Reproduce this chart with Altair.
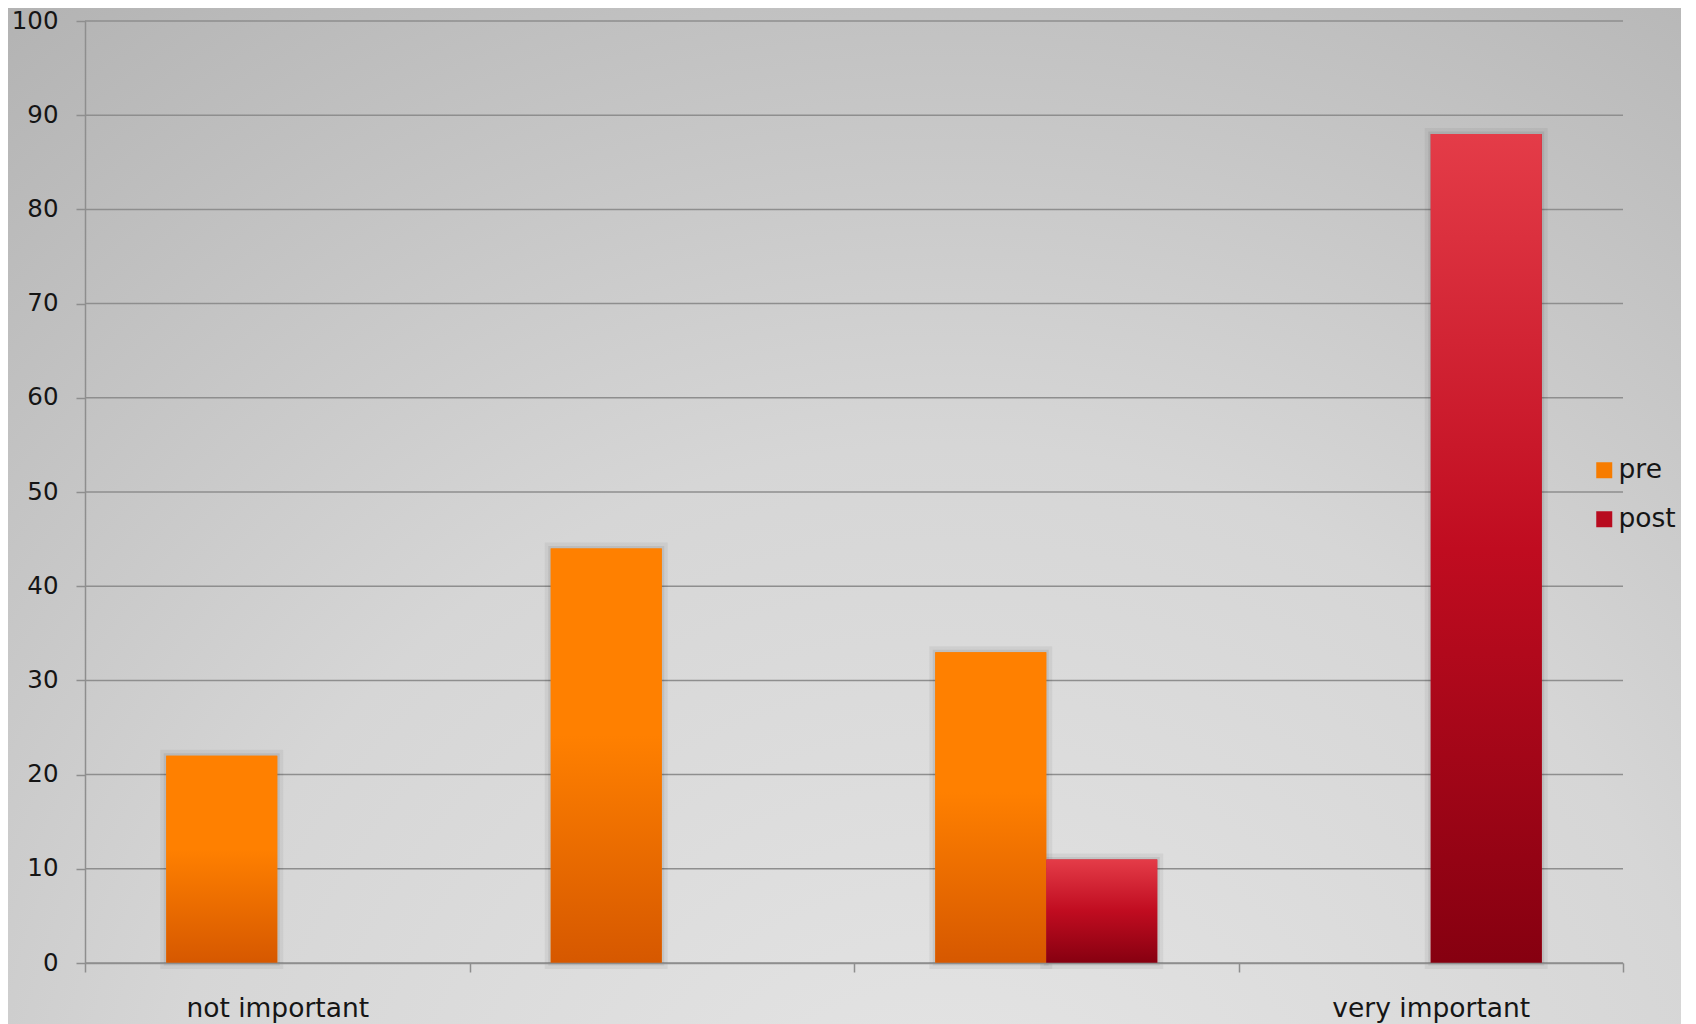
import altair as alt
import pandas as pd

# ---- data ----
categories = [1, 2, 3, 4]
category_labels = ["not important", "", "", "very important"]
series_names = ["pre", "post"]
pre_values = [22, 44, 33, 0]
post_values = [0, 0, 11, 88]
y_ticks = [0, 10, 20, 30, 40, 50, 60, 70, 80, 90, 100]

rows = []
for c, v in zip(categories, pre_values):
    rows.append({"cat": c, "series": "pre", "value": v})
for c, v in zip(categories, post_values):
    rows.append({"cat": c, "series": "post", "value": v})
bars_df = pd.DataFrame(rows)
grid_df = pd.DataFrame({"value": y_ticks})

# ---- layout / style ----
W, H = 1538, 942
PAD_L, PAD_T, PAD_R, PAD_B = 77, 13, 58, 61
FONT = "DejaVu Sans"
FS = 26.5
FS_Y = 24.5
GREY = "#8e8e8e"
TXT = "#151515"

label_expr = "[" + ",".join("'%s'" % l for l in category_labels) + "][datum.value - 1]"

x_enc = alt.X(
    "cat:O",
    scale=alt.Scale(domain=categories, paddingInner=0, paddingOuter=0),
    axis=alt.Axis(
        title=None, labelExpr=label_expr, labelAngle=0, tickBand="extent",
        tickSize=9, tickColor=GREY, tickWidth=1.5, domainColor=GREY, domainWidth=1.5,
        labelPadding=44, labelBaseline="alphabetic", labelFont=FONT, labelFontSize=FS,
        labelColor=TXT, labelLimit=0, grid=False, zindex=1,
    ),
)
xoff_enc = alt.XOffset(
    "series:N", scale=alt.Scale(domain=series_names, paddingInner=0, paddingOuter=0.732)
)
y_enc = alt.Y(
    "value:Q",
    scale=alt.Scale(domain=[0, 100], nice=False, zero=True),
    axis=alt.Axis(
        title=None, values=y_ticks, tickSize=9, tickColor=GREY, tickWidth=1.5,
        domainColor=GREY, domainWidth=1.5, labelPadding=18, labelFont=FONT,
        labelFontSize=FS_Y, labelColor=TXT, grid=False, zindex=1,
    ),
)

bg_gradient = {
    "gradient": "radial",
    "x1": 0.56, "y1": 0.93, "r1": 0,
    "x2": 0.56, "y2": 0.93, "r2": 1.05,
    "stops": [
        {"offset": 0.0, "color": "#e6e6e6"},
        {"offset": 0.45, "color": "#d6d6d6"},
        {"offset": 1.0, "color": "#a9a9a9"},
    ],
}
pre_gradient = {
    "gradient": "linear", "x1": 0, "y1": 0, "x2": 0, "y2": 1,
    "stops": [
        {"offset": 0.0, "color": "#ff8000"},
        {"offset": 0.45, "color": "#ff8000"},
        {"offset": 1.0, "color": "#d65800"},
    ],
}
post_gradient = {
    "gradient": "linear", "x1": 0, "y1": 0, "x2": 0, "y2": 1,
    "stops": [
        {"offset": 0.0, "color": "#e43c48"},
        {"offset": 0.5, "color": "#c00c20"},
        {"offset": 1.0, "color": "#860010"},
    ],
}

bg = alt.Chart(pd.DataFrame({"k": [0]})).mark_rect(color=bg_gradient).encode(
    x=alt.value(-PAD_L), x2=alt.value(W + PAD_R),
    y=alt.value(-PAD_T), y2=alt.value(H + PAD_B),
)

grid = alt.Chart(grid_df).mark_rule(color=GREY, strokeWidth=1.5).encode(
    y=y_enc, x=alt.value(0), x2=alt.value("width")
)

base = alt.Chart(bars_df).transform_filter("datum.value > 0")

shadow1 = base.mark_bar(
    fill="#000000", fillOpacity=0.0, stroke="#000000", strokeOpacity=0.05,
    strokeWidth=12, xOffset=3,
).encode(x=x_enc, xOffset=xoff_enc, y=y_enc)
shadow2 = base.mark_bar(
    fill="#000000", fillOpacity=0.0, stroke="#000000", strokeOpacity=0.07,
    strokeWidth=5, xOffset=3,
).encode(x=x_enc, xOffset=xoff_enc, y=y_enc)

solid = base.mark_bar().encode(
    x=x_enc, xOffset=xoff_enc, y=y_enc,
    color=alt.Color(
        "series:N",
        scale=alt.Scale(domain=series_names, range=["#f77c00", "#b80b1f"]),
        legend=alt.Legend(
            title=None, orient="none", legendX=1506, legendY=436,
            symbolType="square", symbolSize=256, symbolStrokeWidth=0,
            labelFont=FONT, labelFontSize=FS, labelColor=TXT, labelOffset=1,
            labelLimit=0, rowPadding=22, padding=0,
        ),
    ),
)

pre_bars = base.transform_filter("datum.series == 'pre'").mark_bar(color=pre_gradient).encode(
    x=x_enc, xOffset=xoff_enc, y=y_enc
)
post_bars = base.transform_filter("datum.series == 'post'").mark_bar(color=post_gradient).encode(
    x=x_enc, xOffset=xoff_enc, y=y_enc
)

chart = alt.layer(bg, grid, shadow1, shadow2, solid, pre_bars, post_bars).properties(
    width=W, height=H,
    padding={"left": PAD_L, "top": PAD_T, "right": PAD_R, "bottom": PAD_B},
    autosize=alt.AutoSizeParams(type="none"),
).configure(background="#bdbdbd").configure_view(stroke=None)

chart.save("out.html", embed_options={"renderer": "svg", "actions": False})
